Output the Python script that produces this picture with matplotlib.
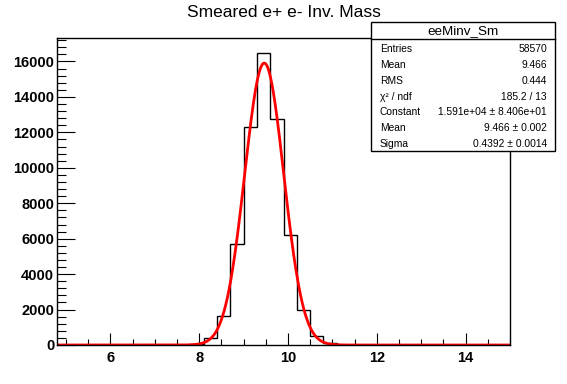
import numpy as np
import matplotlib
matplotlib.use('Agg')
import matplotlib.pyplot as plt
from matplotlib.patches import Rectangle
from matplotlib.ticker import MultipleLocator

# --- data ---
x_min, x_max, bin_width = 4.8, 15.0, 0.3
counts = [0, 0, 0, 0, 0, 0, 0, 0, 0, 0,
          80, 380, 1650, 5700, 12300, 16500, 12750, 6230, 1960, 530, 100,
          0, 0, 0, 0, 0, 0, 0, 0, 0, 0, 0, 0, 0]
fit_const, fit_mean, fit_sigma = 1.591e4, 9.466, 0.4392

title = 'Smeared e+ e- Inv. Mass'
stats_name = 'eeMinv_Sm'
stats_labels = ['Entries', 'Mean', 'RMS', 'χ² / ndf', 'Constant', 'Mean', 'Sigma']
stats_values = ['58570', '9.466', '0.444', '185.2 / 13',
                '1.591e+04 ± 8.406e+01', '9.466 ± 0.002', '0.4392 ± 0.0014']

plt.rcParams['font.family'] = ['Liberation Sans', 'DejaVu Sans']

W, H = 567, 384
fig = plt.figure(figsize=(W / 100, H / 100), dpi=100)
ax = fig.add_axes([57 / W, 1 - 345 / H, (510 - 57) / W, (345 - 38) / H])

edges = x_min + bin_width * np.arange(len(counts) + 1)
ax.stairs(counts, edges, color='black', lw=1)

# gaussian fit drawn from the fitted parameters in the stats box
xs = np.linspace(x_min, x_max, 600)
ax.plot(xs, fit_const * np.exp(-0.5 * ((xs - fit_mean) / fit_sigma) ** 2),
        color='#ff0000', lw=2)

ax.set_xlim(x_min, x_max)
ax.set_ylim(0, max(counts) * 1.05)
ax.xaxis.set_major_locator(MultipleLocator(2))
ax.xaxis.set_minor_locator(MultipleLocator(0.5))
ax.yaxis.set_major_locator(MultipleLocator(2000))
ax.yaxis.set_minor_locator(MultipleLocator(400))
ax.tick_params(which='both', direction='in', top=False, right=False, width=0.8)
ax.tick_params(axis='x', which='major', length=9, pad=4)
ax.tick_params(axis='x', which='minor', length=4.5)
ax.tick_params(axis='y', which='major', length=13, pad=2)
ax.tick_params(axis='y', which='minor', length=6.5)
for lab in ax.get_xticklabels() + ax.get_yticklabels():
    lab.set_fontweight('bold')
    lab.set_fontsize(10.5)
for s in ax.spines.values():
    s.set_linewidth(1)

fig.text(0.5, 1 - 12.5 / H, title, ha='center', va='center', fontsize=12.5)

# stats box
bx0, bx1, by0, by1 = 371 / W, 555 / W, 1 - 151 / H, 1 - 22 / H
fig.patches.append(Rectangle((bx0, by0), bx1 - bx0, by1 - by0, transform=fig.transFigure,
                             facecolor='white', edgecolor='black', lw=1, zorder=5))
fig.lines.append(plt.Line2D([bx0, bx1], [1 - 38.5 / H] * 2, transform=fig.transFigure,
                            color='black', lw=1, zorder=6))
fig.text((bx0 + bx1) / 2, 1 - 31 / H, stats_name, ha='center', va='center',
         fontsize=9.7, zorder=7)
for i, (lab, val) in enumerate(zip(stats_labels, stats_values)):
    yy = 1 - (49.5 + i * 15.67) / H
    fig.text(380 / W, yy, lab, ha='left', va='center', fontsize=7.4, zorder=7)
    fig.text(547 / W, yy, val, ha='right', va='center', fontsize=7.4, zorder=7)

fig.savefig('out.png', dpi=100)
